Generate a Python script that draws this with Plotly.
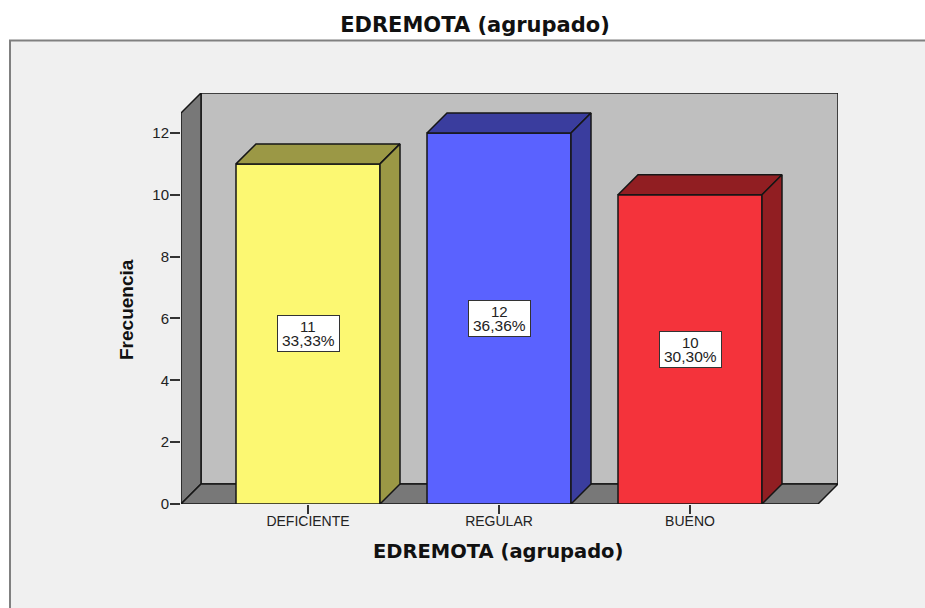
import plotly.graph_objects as go

categories = ['DEFICIENTE', 'REGULAR', 'BUENO']
counts = [11, 12, 10]
percents = ['33,33%', '36,36%', '30,30%']
front_colors = ['#fcf872', '#5a62ff', '#f4333b']
side_colors = ['#9b9845', '#3a3d9e', '#911e22']
y_ticks = [0, 2, 4, 6, 8, 10, 12]

W, H = 925, 608
EDGE = '#161616'
WALL = '#bfbfbf'
WALL_DARK = '#787878'
PANEL = '#f0f0f0'
LABEL_FONT = 'Liberation Sans'
TITLE_FONT = 'DejaVu Sans'

# size of the axes in page pixels
LEFT, RIGHT, TOP, BOTTOM = 181, 838, 93, 504
X0, X_STEP = 308, 191      # first category centre, pixels between categories
Y_UNIT = 30.92             # pixels per count

# oblique offset of the 3D look, in axis units
DX = 20 / X_STEP
DY = 20 / Y_UNIT
BAR_W = 144 / X_STEP

x_min = (LEFT - X0) / X_STEP
x_max = (RIGHT - X0) / X_STEP
y_max = (BOTTOM - TOP) / Y_UNIT
positions = list(range(len(categories)))

fig = go.Figure()

fig.add_trace(go.Bar(
    x=positions,
    y=counts,
    width=BAR_W,
    marker=dict(color=front_colors, line=dict(color=EDGE, width=1.5)),
    hoverinfo='skip'
))

# top and side face of every bar
for pos, val, col in zip(positions, counts, side_colors):
    x1, x2 = pos - BAR_W / 2, pos + BAR_W / 2
    faces = [
        ([x1, x2, x2 + DX, x1 + DX, x1], [val, val, val + DY, val + DY, val]),
        ([x2, x2 + DX, x2 + DX, x2, x2], [val, val + DY, DY, 0, val]),
    ]
    for xs, ys in faces:
        fig.add_trace(go.Scatter(
            x=xs, y=ys, mode='lines', fill='toself', fillcolor=col,
            line=dict(color=EDGE, width=1.5), hoverinfo='skip'
        ))

# back wall, left wall and floor
floor_right = x_max - DX
wall_shapes = [
    dict(path=f'M {x_min + DX} {DY} L {x_max} {DY} L {x_max} {y_max} L {x_min + DX} {y_max} Z',
         fillcolor=WALL),
    dict(path=f'M {x_min} 0 L {x_min + DX} {DY} L {x_min + DX} {y_max} L {x_min} {y_max - DY} Z',
         fillcolor=WALL_DARK),
    dict(path=f'M {x_min} 0 L {floor_right} 0 L {x_max} {DY} L {x_min + DX} {DY} Z',
         fillcolor=WALL_DARK),
]
shapes = [
    # chart panel behind everything, its right and bottom edge fall off the page
    dict(type='rect', xref='paper', yref='paper',
         x0=10 / W, x1=1.02, y0=-0.02, y1=1 - 40.5 / H,
         fillcolor=PANEL, line=dict(color='#808080', width=2), layer='below'),
]
for s in wall_shapes:
    shapes.append(dict(type='path', xref='x', yref='y', layer='below',
                       line=dict(color=EDGE, width=1.5), **s))

# value boxes: empty box, then the two tightly spaced text lines
annotations = []
for pos, val, pct in zip(positions, counts, percents):
    annotations.append(dict(
        x=pos, y=val / 2, xref='x', yref='y', text=' ', showarrow=False,
        width=61, height=35, bgcolor='white', bordercolor='#333333', borderwidth=1, borderpad=0
    ))
    annotations.append(dict(
        x=pos, y=val / 2, xref='x', yref='y', text=str(val), showarrow=False, yshift=7,
        font=dict(family=LABEL_FONT, size=15, color='#222222')
    ))
    annotations.append(dict(
        x=pos, y=val / 2, xref='x', yref='y', text=pct, showarrow=False, yshift=-7,
        font=dict(family=LABEL_FONT, size=15.5, color='#222222')
    ))

# axis titles
annotations.append(dict(
    x=498 / W, y=1 - 551 / H, xref='paper', yref='paper', showarrow=False,
    xanchor='center', yanchor='middle',
    text='<b>EDREMOTA (agrupado)</b>',
    font=dict(family=TITLE_FONT, size=19.5, color='#111111')
))
annotations.append(dict(
    x=127 / W, y=1 - 310 / H, xref='paper', yref='paper', showarrow=False, textangle=-90,
    xanchor='center', yanchor='middle',
    text='<b>Frecuencia</b>',
    font=dict(family=LABEL_FONT, size=19, color='#111111')
))

fig.update_layout(
    width=W,
    height=H,
    margin=dict(l=0, r=0, t=0, b=0),
    paper_bgcolor='white',
    plot_bgcolor='rgba(0,0,0,0)',
    showlegend=False,
    title=dict(
        text='<b>EDREMOTA (agrupado)</b>',
        x=475 / W, xanchor='center', y=1 - 25 / H, yanchor='middle',
        font=dict(family=TITLE_FONT, size=21, color='#111111')
    ),
    xaxis=dict(
        domain=[LEFT / W, RIGHT / W],
        range=[x_min, x_max],
        automargin=False,
        tickmode='array',
        tickvals=positions,
        ticktext=categories,
        ticks='outside',
        ticklen=9,
        tickwidth=1.5,
        tickcolor='#333333',
        ticklabelstandoff=-5,
        tickfont=dict(family=LABEL_FONT, size=14, color='#222222'),
        showgrid=False,
        zeroline=False
    ),
    yaxis=dict(
        domain=[1 - BOTTOM / H, 1 - TOP / H],
        range=[0, y_max],
        automargin=False,
        tickmode='array',
        tickvals=y_ticks,
        ticks='outside',
        ticklen=10,
        tickwidth=1.5,
        tickcolor='#333333',
        ticklabelstandoff=-2,
        tickfont=dict(family=LABEL_FONT, size=15, color='#222222'),
        showgrid=False,
        zeroline=False
    ),
    shapes=shapes,
    annotations=annotations
)

fig.write_html('out.html', config={'displayModeBar': False},
               post_script="document.body.style.margin='0';")
